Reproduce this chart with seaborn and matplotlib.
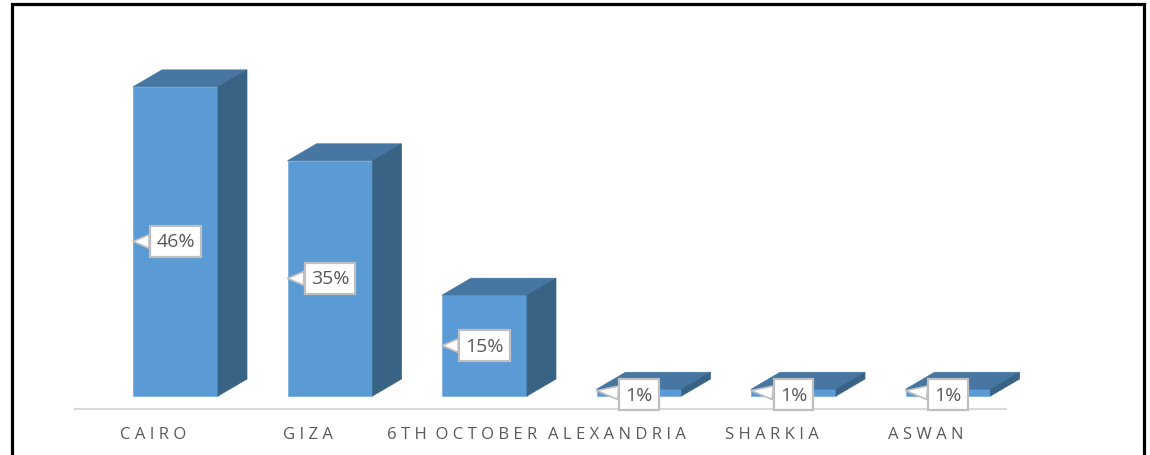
import numpy as np
import pandas as pd
import seaborn as sb
import matplotlib.pyplot as plt
from matplotlib.patches import Polygon, Rectangle

# data
cities = ["CAIRO", "GIZA", "6TH OCTOBER", "ALEXANDRIA", "SHARKIA", "ASWAN"]
share = [46, 35, 15, 1, 1, 1]

df = pd.DataFrame({"city": cities, "share": share})

front_col = "#5B9BD5"
top_col = "#4676A1"
side_col = "#396385"
text_col = "#595959"

W, H = 1150, 456
fig = plt.figure(figsize=(W / 100, H / 100), dpi=100)
# axes placed in pixels so the 3D offsets are easy to set
ax_l, ax_r, ax_t, ax_b = 75, 1075, 20, 420
ax = fig.add_axes([ax_l / W, 1 - ax_b / H, (ax_r - ax_l) / W, (ax_b - ax_t) / H])

sb.barplot(data=df, x="city", y="share", color=front_col, width=0.55,
           edgecolor="#7fb0dd", linewidth=0.6, saturation=1, ax=ax)

px_x = 154.5   # pixels per category
px_y = 6.72    # pixels per percent
xmin = -(175.5 - ax_l) / px_x
ax.set_xlim(xmin, xmin + (ax_r - ax_l) / px_x)
base_px = 397
ax.set_ylim(-(ax_b - base_px) / px_y, (base_px - ax_t) / px_y)

# depth of the fake 3D bars
dx = 29 / px_x
dy = 17 / px_y
for p in list(ax.patches):
    x0 = p.get_x()
    x1 = x0 + p.get_width()
    h = p.get_height()
    top = Polygon([(x0, h), (x1, h), (x1 + dx, h + dy), (x0 + dx, h + dy)],
                  closed=True, fc=top_col, ec=top_col, lw=0.5, zorder=1)
    side = Polygon([(x1, 0), (x1 + dx, dy), (x1 + dx, h + dy), (x1, h)],
                   closed=True, fc=side_col, ec=side_col, lw=0.5, zorder=1)
    ax.add_patch(top)
    ax.add_patch(side)

# floor line
ax.plot([xmin, xmin + (1006 - ax_l) / px_x], [-13 / px_y] * 2,
        color="#d9d9d9", lw=1.5, zorder=0, clip_on=False)

# callout labels
for i, v in enumerate(share):
    yc = v / 2 if v > 5 else 0.2
    ax.annotate(f"{v}%", xy=(i - 0.275, v / 2 if v > 5 else 0.8), xytext=(i, yc),
                ha="center", va="center", fontsize=14, color=text_col,
                family="Open Sans",
                bbox=dict(boxstyle="square,pad=0.32", fc="white", ec="#bfbfbf", lw=1.6),
                arrowprops=dict(arrowstyle="wedge,tail_width=0.7", fc="white",
                                ec="#bfbfbf", lw=1.2, shrinkA=0, shrinkB=0),
                zorder=5)

spaced = ["  ".join(" ".join(w) for w in c.split(" ")) for c in cities]
ax.set_xticks(np.arange(len(cities)) - 22 / px_x)
ax.set_xticklabels(spaced, fontsize=12, color=text_col, family="Open Sans")
ax.tick_params(axis="x", length=0, pad=5)
ax.set_yticks([])
ax.set_xlabel("")
ax.set_ylabel("")
for s in ax.spines.values():
    s.set_visible(False)

# outer black frame
fig.add_artist(Rectangle((12 / W, -0.1), (1144 - 12) / W, 1.1 - 4.5 / H,
                         transform=fig.transFigure, fill=False, ec="black", lw=2.3))

fig.savefig("out.png", dpi=100)
